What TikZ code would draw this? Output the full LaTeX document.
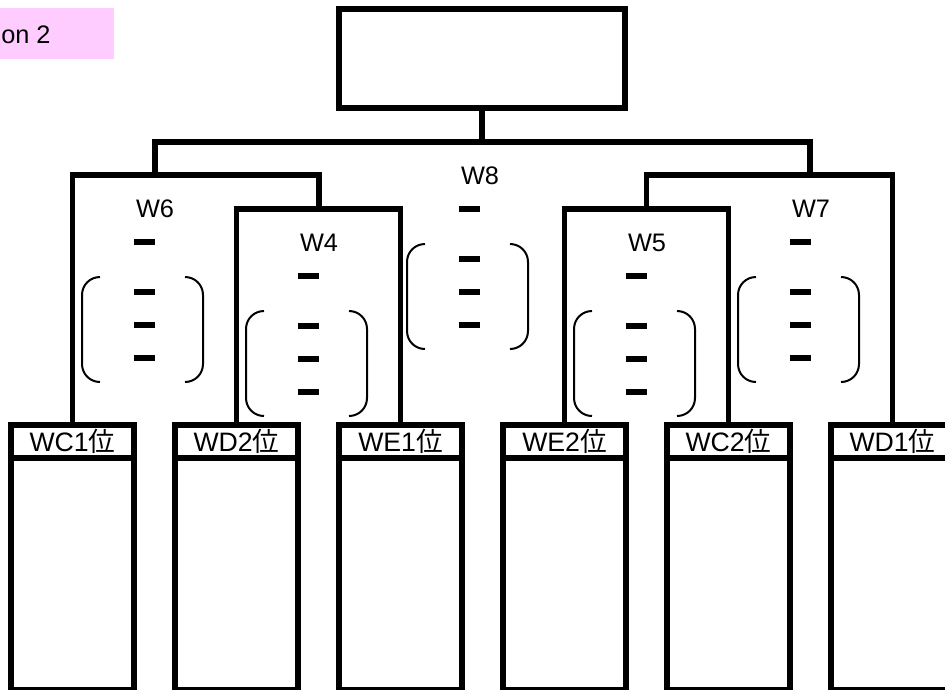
\documentclass[tikz,border=0pt]{standalone}
\usepackage{fontspec}
\setmainfont{Liberation Sans}
\newfontfamily\cjk{Noto Sans CJK JP}
\definecolor{tagpink}{RGB}{255,204,255}
\newcommand\matchgrp[4]{%
  \begin{scope}[shift={(#2,#3)}]
    \node[lbl] (#1) at (0,9) {#4};
    \foreach \yy in {34,84,117,150}{\draw[scorebar] (-21,\yy) -- (0,\yy);}
    \draw[paren] (-55,69) .. controls (-65,69) and (-73,77) .. (-73,87) -- (-73,156) .. controls (-73,166) and (-65,174) .. (-55,174);
    \draw[paren] (30,69) .. controls (40,69) and (48,77) .. (48,87) -- (48,156) .. controls (48,166) and (40,174) .. (30,174);
  \end{scope}}
\begin{document}
\begin{tikzpicture}[x=0.75pt,y=-0.75pt,
  wire/.style={line width=4.1pt},
  frame/.style={draw, line width=4.1pt, inner sep=0pt, outer sep=0pt},
  hdr/.style={frame, minimum width=92.25pt, minimum height=24.75pt, font=\fontsize{20}{22}\selectfont, text height=14.3pt, text depth=0pt},
  bodybox/.style={frame, minimum width=92.25pt, minimum height=174pt},
  lbl/.style={inner sep=0pt, anchor=base, font=\fontsize{19}{21}\selectfont},
  scorebar/.style={line width=4.5pt},
  paren/.style={line width=1.5pt}]
\useasboundingbox (0,0) rectangle (945,689);
\clip (0,0) rectangle (945,689);
% option tag
\fill[tagpink] (0,8) rectangle (114,59);
\node[inner sep=0pt, anchor=base west, font=\fontsize{19}{21}\selectfont] (tag) at (1,43) {on 2};
% top box
\node[frame, minimum width=214.5pt, minimum height=74.25pt] (top) at (482,58.5) {};
% team boxes
\foreach \i/\t in {1/WC1,2/WD2,3/WE1,4/WE2,5/WC2,6/WD1}{
  \node[hdr] (h\i) at ({72.5+164*(\i-1)},441.5) {\t{\cjk 位}};
  \node[bodybox] (b\i) at ({72.5+164*(\i-1)},574) {};
}
% junctions
\coordinate (j4) at (319,209);
\coordinate (j6) at (155,175);
\coordinate (j5) at (646.5,209);
\coordinate (j7) at (810,175);
\coordinate (j8) at (482,142);
\draw[wire] (h2.north) |- (j4) -| (h3.north);
\draw[wire] (h1.north) |- (j6) -| (j4);
\draw[wire] (h4.north) |- (j5) -| (h5.north);
\draw[wire] (j5) |- (j7) -| (h6.north);
\draw[wire] (j6) |- (j8) -| (j7);
\draw[wire] (j8) -- (top.south);
% match labels
\matchgrp{w6}{155}{208}{W6}
\matchgrp{w4}{319}{242}{W4}
\matchgrp{w8}{480}{175}{W8}
\matchgrp{w5}{647}{242}{W5}
\matchgrp{w7}{811}{208}{W7}
\end{tikzpicture}
\end{document}
